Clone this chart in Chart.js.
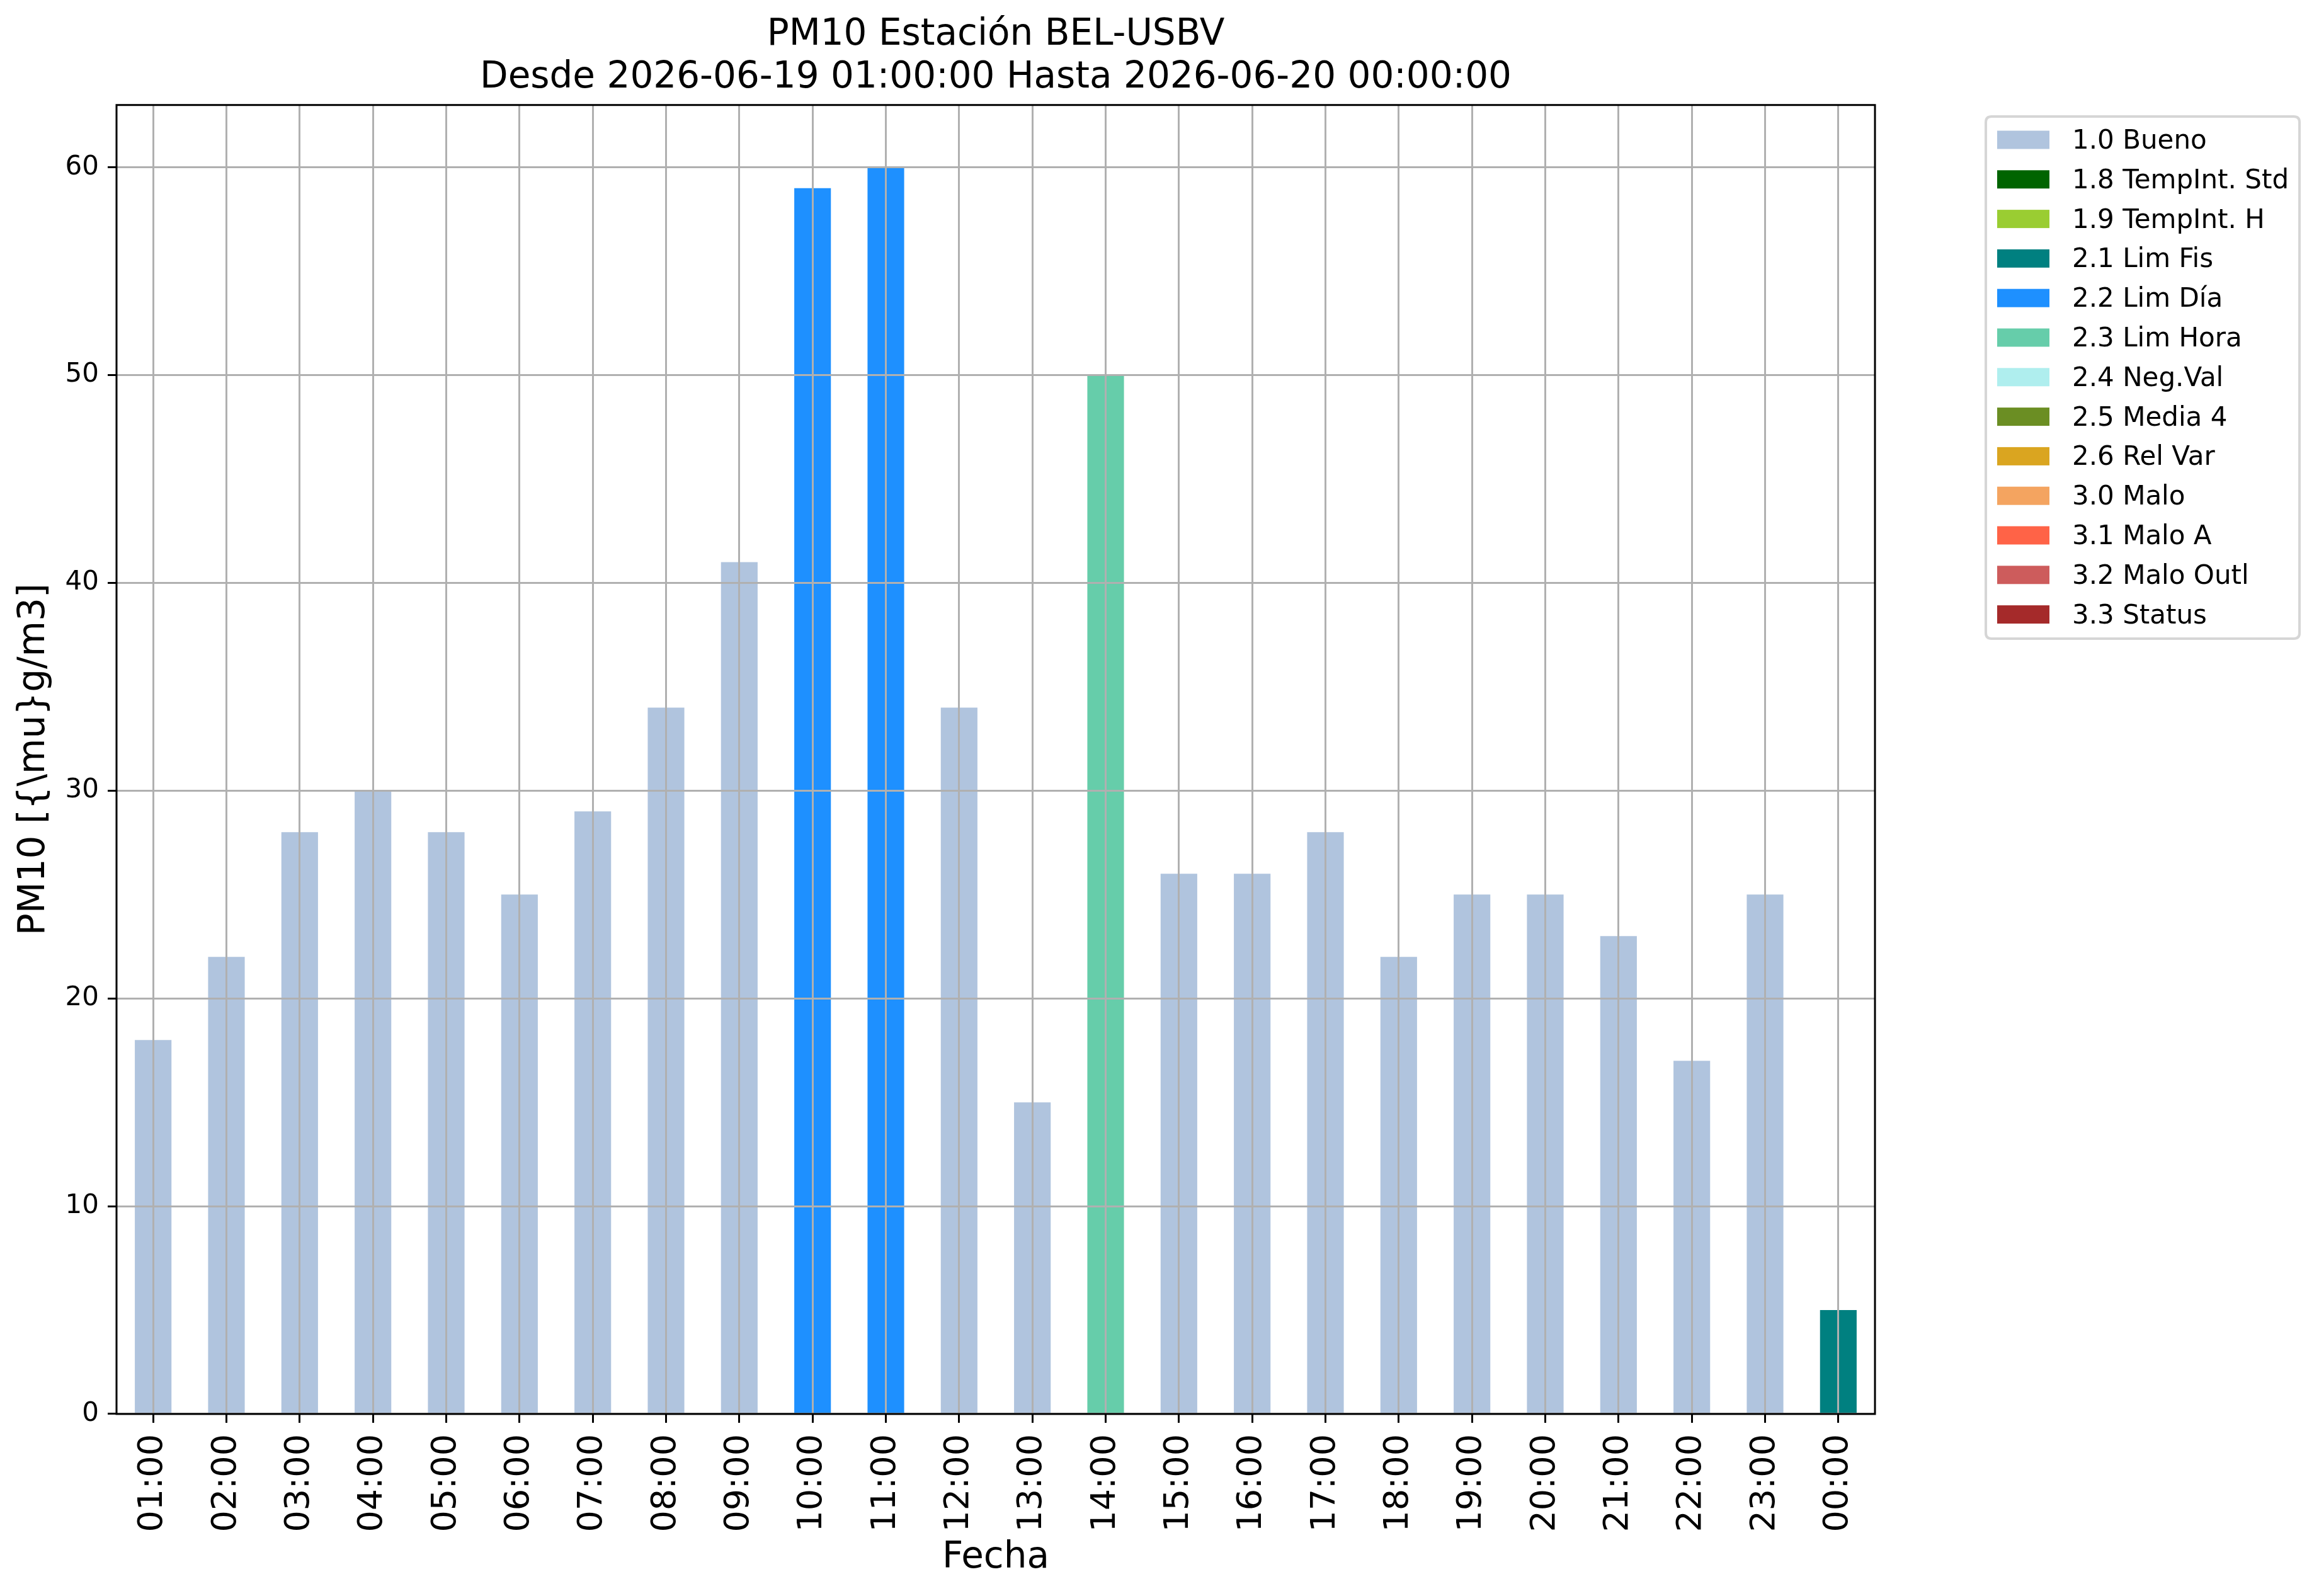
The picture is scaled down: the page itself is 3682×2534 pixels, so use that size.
<!DOCTYPE html>
<html>
<head>
<meta charset="utf-8">
<script src="https://cdn.jsdelivr.net/npm/chart.js@4.4.1/dist/chart.umd.min.js"></script>
<style>
  html, body { margin: 0; padding: 0; background: #ffffff; }
  #wrap { width: 3682px; height: 2534px; }
</style>
</head>
<body>
<div id="wrap"><canvas id="c" width="3682" height="2534"></canvas></div>
<script>
// ---- data ----
const hours = ['01:00','02:00','03:00','04:00','05:00','06:00','07:00','08:00','09:00','10:00','11:00','12:00',
               '13:00','14:00','15:00','16:00','17:00','18:00','19:00','20:00','21:00','22:00','23:00','00:00'];
const pm10Values = [18,22,28,30,28,25,29,34,41,59,60,34,15,50,26,26,28,22,25,25,23,17,25,5];
// index into flagLabels for each hour
const pm10Flags = [0,0,0,0,0,0,0,0,0,4,4,0,0,5,0,0,0,0,0,0,0,0,0,3];
const flagLabels = ['1.0 Bueno','1.8 TempInt. Std','1.9 TempInt. H','2.1 Lim Fis','2.2 Lim Día','2.3 Lim Hora',
                    '2.4 Neg.Val','2.5 Media 4','2.6 Rel Var','3.0 Malo','3.1 Malo A','3.2 Malo Outl','3.3 Status'];
const flagColors = ['#B0C4DE','#006400','#9ACD32','#008080','#1E90FF','#66CDAA',
                    '#AFEEEE','#6B8E23','#DAA520','#F4A460','#FF6347','#CD5C5C','#A52A2A'];
const yTicks = [0,10,20,30,40,50,60];
const titleLines = ['PM10 Estación BEL-USBV','Desde 2026-06-19 01:00:00 Hasta 2026-06-20 00:00:00'];
const xTitle = 'Fecha';
const yTitle = 'PM10 [{\\mu}g/m3]';

const FONT = "'DejaVu Sans', 'Liberation Sans', sans-serif";

const datasets = flagLabels.map((lab, k) => ({
  label: lab,
  data: pm10Values.map((v, i) => pm10Flags[i] === k ? v : null),
  backgroundColor: flagColors[k],
  borderWidth: 0,
  barPercentage: 0.5,
  categoryPercentage: 1.0
}));

const framePlugin = {
  id: 'frame',
  afterDraw(chart) {
    const ctx = chart.ctx, a = chart.chartArea;
    ctx.save();
    ctx.strokeStyle = '#000000';
    ctx.lineWidth = 3;
    ctx.strokeRect(a.left, a.top, a.right - a.left, a.bottom - a.top);
    ctx.restore();
  }
};

const legendPlugin = {
  id: 'boxLegend',
  afterDraw(chart) {
    const ctx = chart.ctx;
    const x0 = 3153, y0 = 185, w = 498, h = 829, r = 9;
    ctx.save();
    ctx.fillStyle = 'rgba(255,255,255,0.8)';
    ctx.strokeStyle = '#d6d6d6';
    ctx.lineWidth = 4;
    ctx.beginPath();
    ctx.moveTo(x0 + r, y0);
    ctx.lineTo(x0 + w - r, y0);
    ctx.quadraticCurveTo(x0 + w, y0, x0 + w, y0 + r);
    ctx.lineTo(x0 + w, y0 + h - r);
    ctx.quadraticCurveTo(x0 + w, y0 + h, x0 + w - r, y0 + h);
    ctx.lineTo(x0 + r, y0 + h);
    ctx.quadraticCurveTo(x0, y0 + h, x0, y0 + h - r);
    ctx.lineTo(x0, y0 + r);
    ctx.quadraticCurveTo(x0, y0, x0 + r, y0);
    ctx.closePath();
    ctx.fill();
    ctx.stroke();
    ctx.font = '42px ' + FONT;
    ctx.textBaseline = 'middle';
    ctx.textAlign = 'left';
    chart.data.datasets.forEach((ds, i) => {
      const cy = 222 + i * 62.8;
      ctx.fillStyle = ds.backgroundColor;
      ctx.fillRect(3171, cy - 14.5, 83, 29);
      ctx.fillStyle = '#000000';
      ctx.fillText(ds.label, 3290, cy + 3);
    });
    ctx.restore();
  }
};

new Chart(document.getElementById('c'), {
  type: 'bar',
  data: { labels: hours, datasets: datasets },
  plugins: [framePlugin, legendPlugin],
  options: {
    responsive: false,
    maintainAspectRatio: false,
    devicePixelRatio: 1,
    animation: false,
    layout: { padding: { left: 0, right: 705, top: 0, bottom: 0 } },
    plugins: {
      legend: { display: false },
      tooltip: { enabled: false },
      title: {
        display: true,
        fullSize: false,
        text: titleLines,
        color: '#000000',
        font: { family: FONT, size: 58, weight: 'normal', lineHeight: 1.17 },
        padding: { top: 22, bottom: 9 }
      }
    },
    scales: {
      x: {
        stacked: true,
        offset: true,
        afterFit(scale) { scale.height = 289; },
        grid: {
          display: true,
          offset: false,
          color: '#b0b0b0',
          lineWidth: 3,
          drawTicks: true,
          tickLength: 14,
          tickColor: '#000000',
          tickWidth: 3,
          z: 1
        },
        border: { display: false },
        ticks: {
          autoSkip: false,
          minRotation: 90,
          maxRotation: 90,
          padding: 18,
          color: '#000000',
          font: { family: FONT, size: 54 }
        },
        title: {
          display: true,
          text: xTitle,
          color: '#000000',
          font: { family: FONT, size: 58, lineHeight: 1.2 },
          padding: { top: 0, bottom: 25 }
        }
      },
      y: {
        stacked: true,
        min: 0,
        max: 63,
        afterFit(scale) { scale.width = 185; },
        afterBuildTicks(scale) { scale.ticks = yTicks.map(v => ({ value: v })); },
        grid: {
          display: true,
          color: '#b0b0b0',
          lineWidth: 3,
          drawTicks: true,
          tickLength: 14,
          tickColor: '#000000',
          tickWidth: 3,
          z: 1
        },
        border: { display: false },
        ticks: {
          padding: 14,
          color: '#000000',
          font: { family: FONT, size: 42 },
          callback: (v) => String(v)
        },
        title: {
          display: true,
          text: yTitle,
          color: '#000000',
          font: { family: FONT, size: 58, lineHeight: 1.2 },
          padding: { top: 20, bottom: 0 }
        }
      }
    }
  }
});
</script>
</body>
</html>
